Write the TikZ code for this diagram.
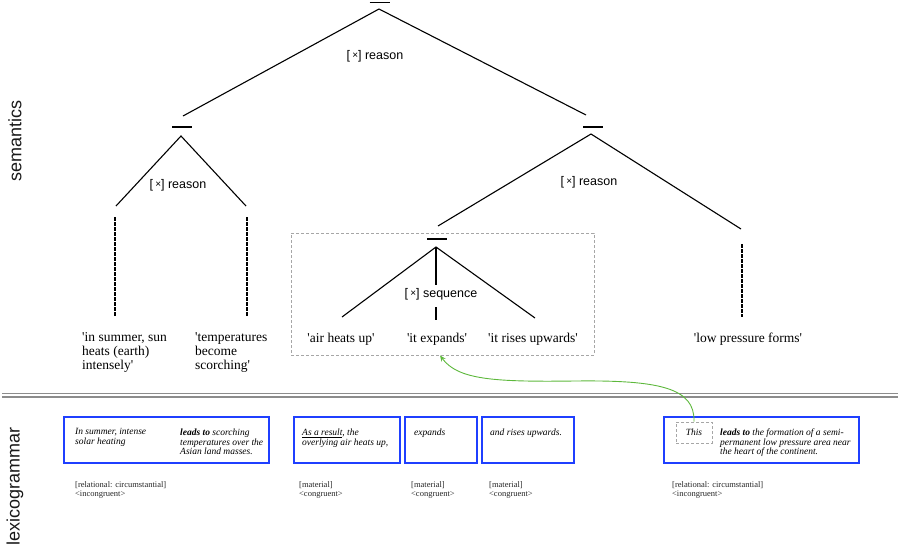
\documentclass[tikz,border=0pt]{standalone}
\usepackage{fontspec}
\setmainfont{Liberation Serif}
\setsansfont{Liberation Sans}
\usetikzlibrary{arrows.meta}
\definecolor{boxblue}{HTML}{1F3FFF}
\definecolor{arrowgreen}{HTML}{5DB83C}
\newcommand{\xsign}{[\,\raisebox{0.6pt}{\fontsize{10}{10}\selectfont ×}]}
\newcommand{\sq}{\textquotesingle}
\begin{document}
\begin{tikzpicture}[x=1pt,y=-1pt,
 branch/.style={line width=1.1pt},
 barline/.style={line width=1.6pt},
 dashline/.style={line width=1.5pt, dash pattern=on 3.6pt off 1.4pt},
 rel/.style={font=\sffamily\fontsize{12.5}{14}\selectfont, inner sep=0pt},
 leaf/.style={font=\fontsize{13.5}{14}\selectfont, align=left, inner sep=0pt, anchor=north west},
 leafc/.style={font=\fontsize{13.5}{14}\selectfont, inner sep=0pt, anchor=north},
 lexbox/.style={draw=boxblue, line width=1.5pt},
 lex/.style={font=\itshape\fontsize{9.5}{9.8}\selectfont, align=left, inner sep=0pt, anchor=north west},
 ann/.style={font=\fontsize{8.5}{9.3}\selectfont, align=left, inner sep=0pt, anchor=north west, text=black!85},
 side/.style={font=\sffamily\fontsize{18}{18}\selectfont, rotate=90, text=black!90, inner sep=0pt},
 grayDash/.style={draw=black!35, line width=0.8pt, dash pattern=on 3pt off 2pt},
]
\useasboundingbox (0,0) rectangle (898,552);

% side labels
\node[side] (semlabel) at (15,141) {semantics};
\node[side] (lexlabel) at (15,486) {lexicogrammar};

% ---------- semantics tree ----------
% root
\coordinate (rootbar) at (379.5,2.5);
\coordinate (rootapex) at (379,9);
\draw[barline] ([xshift=-10pt]rootbar) -- ([xshift=10pt]rootbar);
\coordinate (rootL) at (183,116);
\coordinate (rootR) at (586,115);
\draw[branch] (rootL) -- (rootapex) -- (rootR);
\node[rel] (rootrel) at (375,56) {\xsign\ reason};

% left node
\coordinate (lbar) at (182,127);
\coordinate (lapex) at (181,136);
\draw[barline] ([xshift=-10pt]lbar) -- ([xshift=10pt]lbar);
\coordinate (lL) at (116,206);
\coordinate (lR) at (246,206);
\draw[branch] (lL) -- (lapex) -- (lR);
\node[rel] (lrel) at (178,185) {\xsign\ reason};
\coordinate (d1a) at (115,217); \coordinate (d1b) at (115,316);
\coordinate (d2a) at (247,217); \coordinate (d2b) at (247,316);
\draw[dashline] (d1a) -- (d1b);
\draw[dashline] (d2a) -- (d2b);
\node[leaf] (leaf1) at (82,332) {\sq in summer, sun\\heats (earth)\\intensely\sq};
\node[leaf] (leaf2) at (195,332) {\sq temperatures\\become\\scorching\sq};

% right node
\coordinate (rbar) at (593,127);
\coordinate (rapex) at (591,134);
\draw[barline] ([xshift=-10pt]rbar) -- ([xshift=10pt]rbar);
\coordinate (rL) at (438,226);
\coordinate (rR) at (741,229);
\draw[branch] (rL) -- (rapex) -- (rR);
\node[rel] (rrel) at (589,182) {\xsign\ reason};
\coordinate (d3a) at (742,244); \coordinate (d3b) at (742,317);
\draw[dashline] (d3a) -- (d3b);
\node[leafc] (leaf6) at (748,333) {\sq low pressure forms\sq};

% sequence node in dashed box
\node[grayDash, minimum width=303pt, minimum height=122pt, inner sep=0pt] (seqbox) at (442.5,294) {};
\coordinate (sbar) at (437,239);
\coordinate (sapex) at (436,247);
\draw[barline] ([xshift=-10pt]sbar) -- ([xshift=10pt]sbar);
\coordinate (sL) at (342,317);
\coordinate (sM) at (436,285);
\coordinate (sR) at (535,318);
\draw[branch] (sL) -- (sapex) -- (sR);
\draw[branch] (sapex) -- (sM);
\node[rel] (srel) at (441,294) {\xsign\ sequence};
\coordinate (sM2a) at (436,307); \coordinate (sM2b) at (436,320);
\draw[branch] (sM2a) -- (sM2b);
\node[leafc] (leaf3) at (341,333) {\sq air heats up\sq};
\node[leafc] (leaf4) at (437,333) {\sq it expands\sq};
\node[leafc] (leaf5) at (533,333) {\sq it rises upwards\sq};

% ---------- separator ----------
\coordinate (sepA) at (2,393.5); \coordinate (sepB) at (898,393.5);
\coordinate (sepC) at (2,397.2); \coordinate (sepD) at (898,397.2);
\draw[black!45, line width=1.8pt] (sepA) -- (sepB);
\draw[black!45, line width=1.8pt] (sepC) -- (sepD);

% ---------- lexicogrammar ----------
\draw[lexbox] (64,417) rectangle (269,463);
\node[lex] (t1a) at (75,428.5) {In summer, intense\\solar heating};
\node[lex] (t1b) at (180,428.5) {\textbf{leads to} scorching\\temperatures over the\\Asian land masses.};
\node[ann] (a1) at (75,481) {[relational: circumstantial]\\<incongruent>};

\draw[lexbox] (294,417) rectangle (400,463);
\node[lex] (t2) at (302,428.5) {\underline{As a result}, the\\overlying air heats up,};
\node[ann] (a2) at (299,481) {[material]\\<congruent>};

\draw[lexbox] (405,417) rectangle (477,463);
\node[lex] (t3) at (414,428.5) {expands};
\node[ann] (a3) at (411,481) {[material]\\<congruent>};

\draw[lexbox] (482,417) rectangle (574,463);
\node[lex] (t4) at (490,428.5) {and rises upwards.};
\node[ann] (a4) at (489,481) {[material]\\<congruent>};

\draw[lexbox] (664,417) rectangle (859,463);
\node[grayDash, minimum width=36pt, minimum height=21pt, inner sep=0pt, font=\itshape\fontsize{9.5}{9.8}\selectfont] (thisbox) at (694,432.5) {This};
\node[lex] (t5) at (720,428.5) {\textbf{leads to} the formation of a semi-\\permanent low pressure area near\\the heart of the continent.};
\node[ann] (a5) at (672,481) {[relational: circumstantial]\\<incongruent>};

% green arrow
\draw[arrowgreen, line width=0.9pt, -{Stealth[length=6pt,width=5pt]}]
  (thisbox.north) .. controls (695,388) and (660,380) .. (575,381)
  .. controls (495,382) and (458,380) .. ([xshift=-2.5pt]seqbox.south);

\end{tikzpicture}
\end{document}
